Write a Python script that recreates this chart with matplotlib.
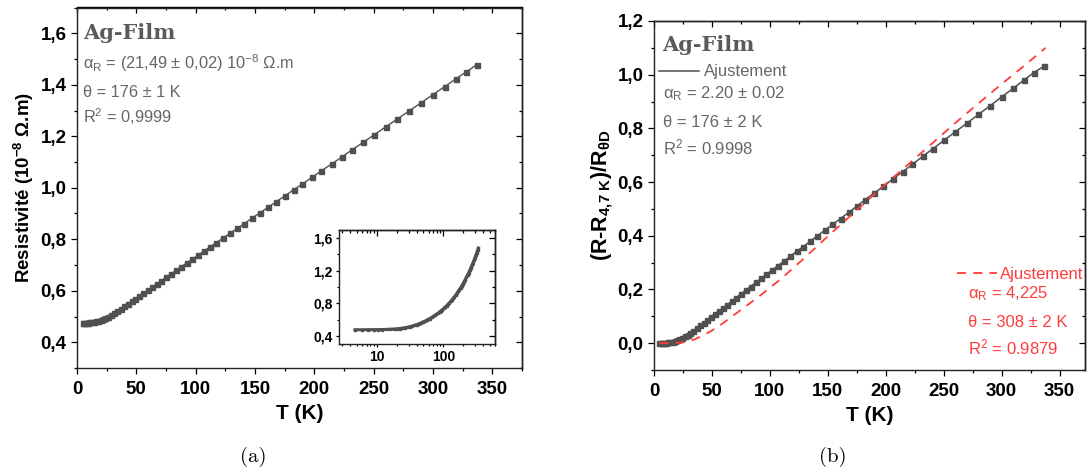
import numpy as np
import matplotlib.pyplot as plt
from matplotlib.ticker import MultipleLocator, NullFormatter

plt.rcParams['font.family'] = ['Liberation Sans', 'DejaVu Sans']
plt.rcParams['mathtext.fontset'] = 'custom'
plt.rcParams['mathtext.rm'] = 'Liberation Sans'
plt.rcParams['mathtext.it'] = 'Liberation Sans:italic'
plt.rcParams['mathtext.bf'] = 'Liberation Sans:bold'

# temperature of the measured points (K)
T = [4.7, 6, 7.5, 9, 10.5, 12, 14, 16, 18, 20, 22, 24, 26.5, 29, 31.5, 34, 37, 40,
     43, 46, 49, 52.5, 56, 59.5, 63, 67, 71, 75, 79, 83.5, 88, 92.5, 97, 102, 107,
     112, 117.5, 123, 129, 135, 141, 147.5, 154, 161, 168, 175, 182.5, 190, 198,
     206, 214.5, 223, 232, 241, 250.5, 260, 270, 280, 290, 300, 310, 319, 328, 337]

# resistivity (10^-8 Ohm.m), panel (a)
rho = [0.475, 0.475, 0.476, 0.476, 0.477, 0.478, 0.479, 0.481, 0.484, 0.487, 0.490,
       0.494, 0.500, 0.506, 0.513, 0.520, 0.530, 0.539, 0.549, 0.559, 0.569, 0.580,
       0.591, 0.602, 0.613, 0.626, 0.639, 0.652, 0.665, 0.679, 0.694, 0.708, 0.722,
       0.738, 0.754, 0.770, 0.787, 0.805, 0.823, 0.842, 0.861, 0.882, 0.902, 0.924,
       0.946, 0.968, 0.992, 1.015, 1.040, 1.066, 1.092, 1.119, 1.148, 1.176, 1.206,
       1.236, 1.267, 1.299, 1.330, 1.362, 1.393, 1.422, 1.450, 1.478]

# normalised resistance, panel (b)
r_norm = [0.000, 0.000, 0.001, 0.001, 0.002, 0.003, 0.004, 0.006, 0.009, 0.012, 0.016,
          0.020, 0.026, 0.032, 0.039, 0.046, 0.057, 0.066, 0.076, 0.087, 0.097, 0.109,
          0.120, 0.131, 0.143, 0.156, 0.170, 0.183, 0.197, 0.211, 0.227, 0.241, 0.256,
          0.272, 0.289, 0.305, 0.323, 0.342, 0.360, 0.380, 0.400, 0.421, 0.442, 0.464,
          0.487, 0.510, 0.535, 0.559, 0.584, 0.611, 0.638, 0.666, 0.696, 0.725, 0.756,
          0.787, 0.819, 0.852, 0.884, 0.917, 0.949, 0.979, 1.008, 1.033]

# second fit (theta = 308 K), red dashed curve
T_fit2 = [4.7, 10, 15, 20, 25, 30, 35, 40, 45, 50, 55, 60, 65, 70, 75, 80, 90, 100,
          110, 120, 130, 140, 150, 160, 170, 180, 190, 200, 220, 240, 260, 280, 300,
          320, 338]
fit2 = [0.000, 0.000, 0.000, 0.001, 0.003, 0.007, 0.014, 0.024, 0.035, 0.047, 0.061,
        0.076, 0.092, 0.108, 0.124, 0.140, 0.172, 0.206, 0.241, 0.279, 0.318, 0.358,
        0.398, 0.437, 0.476, 0.515, 0.554, 0.593, 0.668, 0.744, 0.820, 0.893, 0.965,
        1.035, 1.100]

left_yticks = [0.4, 0.6, 0.8, 1.0, 1.2, 1.4, 1.6]
left_ylabels = ['0,4', '0,6', '0,8', '1,0', '1,2', '1,4', '1,6']
right_yticks = [0.0, 0.2, 0.4, 0.6, 0.8, 1.0, 1.2]
right_ylabels = ['0,0', '0,2', '0,4', '0,6', '0,8', '1,0', '1,2']
inset_yticks = [0.4, 0.8, 1.2, 1.6]
inset_ylabels = ['0,4', '0,8', '1,2', '1,6']
xticks = [0, 50, 100, 150, 200, 250, 300, 350]

dark = '#505050'
txt_gray = '#666666'
red = '#ff3c3c'

fig = plt.figure(figsize=(10.87, 4.70), dpi=100)


def style_frame(ax, xminor, yminor, size=13.5, log=False):
    ax.tick_params(which='both', direction='out', top=False, right=False, width=0.9)
    ax.tick_params(which='major', length=4, labelsize=size)
    ax.tick_params(which='minor', length=2.5)
    for lab in ax.get_xticklabels() + ax.get_yticklabels():
        lab.set_fontweight('bold')
    for s in ax.spines.values():
        s.set_linewidth(1.0)
        s.set_color('#222222')
    top = ax.secondary_xaxis('top')
    right = ax.secondary_yaxis('right')
    if log:
        top.xaxis.set_major_locator(ax.xaxis.get_major_locator())
    else:
        top.set_xticks(ax.get_xticks())
        top.xaxis.set_minor_locator(MultipleLocator(xminor))
    right.set_yticks(ax.get_yticks())
    right.yaxis.set_minor_locator(MultipleLocator(yminor))
    top.xaxis.set_major_formatter(NullFormatter())
    top.xaxis.set_minor_formatter(NullFormatter())
    right.yaxis.set_major_formatter(NullFormatter())
    for sec in (top, right):
        sec.tick_params(which='both', direction='in', width=0.9)
        sec.tick_params(which='major', length=4)
        sec.tick_params(which='minor', length=2.5)
        for s in sec.spines.values():
            s.set_linewidth(1.0)


# ---------------- panel (a)
ax1 = fig.add_axes([77 / 1087, 102 / 470, 445 / 1087, 360.5 / 470])
ax1.plot(T, rho, '-s', color=dark, lw=1.0, ms=3.6, mec=dark, mfc=dark)
ax1.set_xlim(0, 375)
ax1.set_ylim(0.3, 1.7)
ax1.set_xticks(xticks)
ax1.set_yticks(left_yticks)
ax1.set_yticklabels(left_ylabels)
ax1.xaxis.set_minor_locator(MultipleLocator(25))
ax1.yaxis.set_minor_locator(MultipleLocator(0.1))
style_frame(ax1, 25, 0.1)
ax1.tick_params(axis='x', pad=5)
ax1.set_xlabel('T (K)', fontsize=15, fontweight='bold', labelpad=5)
ax1.set_ylabel('Resistivité (10$^{\\mathbf{-8}}$ Ω.m)', fontsize=13.5,
               fontweight='bold', labelpad=3)

ax1.text(0.014, 0.929, 'Ag-Film', transform=ax1.transAxes, family='DejaVu Serif',
         fontsize=15, fontweight='bold', color='#5a5a5a', va='center')
ax1.text(0.014, 0.846, 'α$_\\mathrm{R}$ = (21,49 ± 0,02) 10$^{-8}$ Ω.m',
         transform=ax1.transAxes, fontsize=11.8, color=txt_gray, va='center')
ax1.text(0.014, 0.763, 'θ = 176 ± 1 K', transform=ax1.transAxes, fontsize=11.8,
         color=txt_gray, va='center')
ax1.text(0.014, 0.696, 'R$^2$ = 0,9999', transform=ax1.transAxes, fontsize=11.8,
         color=txt_gray, va='center')

# inset (log T)
axi = fig.add_axes([339 / 1087, 126 / 470, 156 / 1087, 114 / 470])
axi.plot(T, rho, '-s', color=dark, lw=2.2, ms=1.8, mec=dark, mfc=dark)
axi.set_xscale('log')
axi.set_xlim(2.7, 600)
axi.set_ylim(0.3, 1.7)
axi.set_xticks([10, 100])
axi.set_xticklabels(['10', '100'])
axi.set_yticks(inset_yticks)
axi.set_yticklabels(inset_ylabels)
axi.yaxis.set_minor_locator(MultipleLocator(0.2))
style_frame(axi, None, 0.2, size=10, log=True)
axi.tick_params(which='major', length=2.5, pad=2)
axi.tick_params(which='minor', length=1.5)

# ---------------- panel (b)
ax2 = fig.add_axes([654 / 1087, 100 / 470, 431 / 1087, 349 / 470])
ax2.plot(T, r_norm, 's', color=dark, ms=3.6, mec=dark, mfc=dark)
fit1, = ax2.plot(T, r_norm, '-', color=dark, lw=1.1)
fit2_line, = ax2.plot(T_fit2, fit2, '--', color=red, lw=1.3, dashes=(5, 4))
ax2.set_xlim(0, 372)
ax2.set_ylim(-0.1, 1.2)
ax2.set_xticks(xticks)
ax2.set_yticks(right_yticks)
ax2.set_yticklabels(right_ylabels)
ax2.xaxis.set_minor_locator(MultipleLocator(25))
ax2.yaxis.set_minor_locator(MultipleLocator(0.1))
style_frame(ax2, 25, 0.1)
ax2.tick_params(axis='x', pad=5)
ax2.set_xlabel('T (K)', fontsize=15, fontweight='bold', labelpad=5)
ax2.set_ylabel('(R-R$_{\\mathbf{4{,}7\\ K}}$)/R$_{\\mathbf{\\theta D}}$', fontsize=15.5,
               fontweight='bold', labelpad=2)

ax2.text(0.019, 0.931, 'Ag-Film', transform=ax2.transAxes, family='DejaVu Serif',
         fontsize=15, fontweight='bold', color='#5a5a5a', va='center')
leg1 = ax2.legend([fit1], ['Ajustement'], loc='center left',
                  bbox_to_anchor=(0.012, 0.854), frameon=False, fontsize=12,
                  handlelength=2.4, handletextpad=0.3, borderpad=0, borderaxespad=0,
                  labelcolor=txt_gray)
ax2.add_artist(leg1)
ax2.text(0.021, 0.791, 'α$_\\mathrm{R}$ = 2.20 ± 0.02', transform=ax2.transAxes,
         fontsize=12, color=txt_gray, va='center')
ax2.text(0.021, 0.708, 'θ = 176 ± 2 K', transform=ax2.transAxes, fontsize=12,
         color=txt_gray, va='center')
ax2.text(0.021, 0.639, 'R$^2$ = 0.9998', transform=ax2.transAxes, fontsize=12,
         color=txt_gray, va='center')

leg2 = ax2.legend([fit2_line], ['Ajustement'], loc='center left',
                  bbox_to_anchor=(0.703, 0.275), frameon=False, fontsize=12,
                  handlelength=2.4, handletextpad=0.2, borderpad=0, borderaxespad=0,
                  labelcolor=red)
ax2.text(0.728, 0.218, 'α$_\\mathrm{R}$ = 4,225', transform=ax2.transAxes,
         fontsize=12, color=red, va='center')
ax2.text(0.728, 0.135, 'θ = 308 ± 2 K', transform=ax2.transAxes, fontsize=12,
         color=red, va='center')
ax2.text(0.728, 0.066, 'R$^2$ = 0.9879', transform=ax2.transAxes, fontsize=12,
         color=red, va='center')

fig.text(253 / 1087, 1 - 457 / 470, '(a)', family='cmr10', fontsize=15,
         ha='center', va='center')
fig.text(833 / 1087, 1 - 457 / 470, '(b)', family='cmr10', fontsize=15,
         ha='center', va='center')

fig.savefig('out.png', dpi=100)
